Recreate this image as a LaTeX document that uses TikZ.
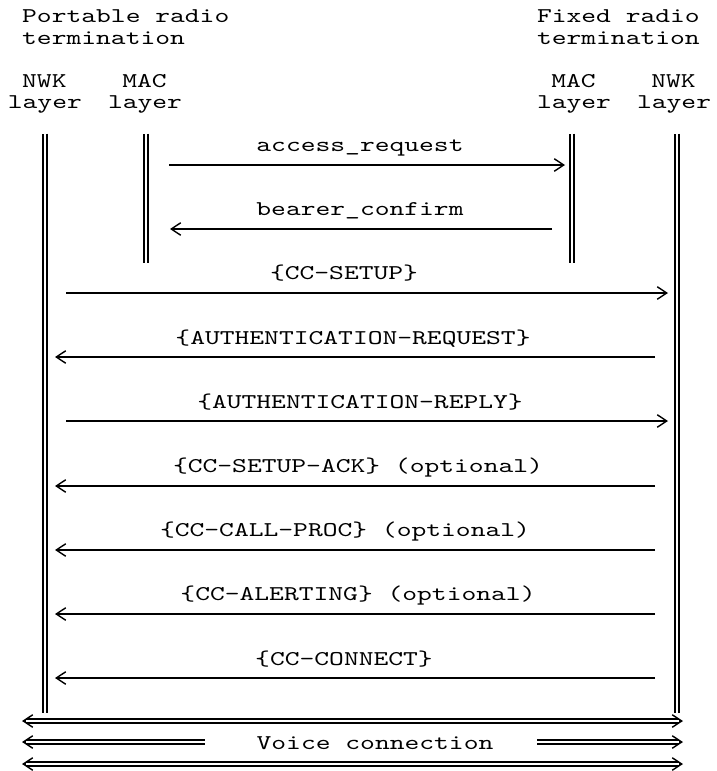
\documentclass[tikz,border=0pt]{standalone}
\usepackage{fontspec}
\newfontfamily\courfont{lmmono10-regular.otf}[FakeStretch=1.342]
\usetikzlibrary{arrows.meta}
\begin{document}
\begin{tikzpicture}[x=1pt,y=-1pt,
  txt/.style={font={\courfont\fontsize{21}{21.4}\selectfont}, inner sep=0pt, text=black},
  hdr/.style={txt, anchor=base west},
  msgtxt/.style={txt, anchor=base},
  life/.style={draw=black, double=white, double distance=2.4pt, line width=1.4pt},
  tip/.tip={Straight Barb[length=9.5pt,width=12.5pt,line width=1.4pt]},
  msg/.style={draw=black, line width=1.8pt, -tip},
  chev/.style={draw=black, line width=1.4pt},
  dbl/.style={draw=black, double=white, double distance=2.3pt, line width=1.8pt}]
\useasboundingbox[fill=white] (0,0) rectangle (716,771);

% ---- headers
\node[hdr] (prt1) at (22,23) {Portable radio};
\node[hdr] (prt2) at (22,44.4) {termination};
\node[hdr] (frt1) at (536.8,23) {Fixed radio};
\node[hdr] (frt2) at (536.8,44.4) {termination};
\node[hdr] (nwkLa) at (22,87.2) {NWK};
\node[hdr] (nwkLb) at (7.7,108.6) {layer};
\node[hdr] (macLa) at (122.1,87.2) {MAC};
\node[hdr] (macLb) at (107.8,108.6) {layer};
\node[hdr] (macRa) at (551.1,87.2) {MAC};
\node[hdr] (macRb) at (536.8,108.6) {layer};
\node[hdr] (nwkRa) at (651.2,87.2) {NWK};
\node[hdr] (nwkRb) at (636.9,108.6) {layer};

% ---- lifelines
\coordinate (nwkLt) at (45,133.5);  \coordinate (nwkLe) at (45,713);
\coordinate (macLt) at (146,133.5); \coordinate (macLe) at (146,263);
\coordinate (macRt) at (572,133.5); \coordinate (macRe) at (572,263);
\coordinate (nwkRt) at (677,133.5); \coordinate (nwkRe) at (677,713);
\draw[life] (nwkLt) -- (nwkLe);
\draw[life] (macLt) -- (macLe);
\draw[life] (macRt) -- (macRe);
\draw[life] (nwkRt) -- (nwkRe);

% ---- messages
\node[msgtxt] (t1) at (360,151.4) {access\_request};
\coordinate (s1) at (169,165); \coordinate (e1) at (565,165);
\draw[msg] (s1) -- (e1);

\node[msgtxt] (t2) at (360,215.6) {bearer\_confirm};
\coordinate (s2) at (552,229); \coordinate (e2) at (170,229);
\draw[msg] (s2) -- (e2);

\node[msgtxt] (t3) at (344,279.8) {\{CC-SETUP\}};
\coordinate (s3) at (66,293); \coordinate (e3) at (668,293);
\draw[msg] (s3) -- (e3);

\node[msgtxt] (t4) at (353,344) {\{AUTHENTICATION-REQUEST\}};
\coordinate (s4) at (655,357); \coordinate (e4) at (55,357);
\draw[msg] (s4) -- (e4);

\node[msgtxt] (t5) at (360,408.2) {\{AUTHENTICATION-REPLY\}};
\coordinate (s5) at (66,421); \coordinate (e5) at (668,421);
\draw[msg] (s5) -- (e5);

\node[msgtxt] (t6) at (358,472.4) {\{CC-SETUP-ACK\} (optional)};
\coordinate (s6) at (655,486); \coordinate (e6) at (55,486);
\draw[msg] (s6) -- (e6);

\node[msgtxt] (t7) at (345,536.6) {\{CC-CALL-PROC\} (optional)};
\coordinate (s7) at (655,550); \coordinate (e7) at (55,550);
\draw[msg] (s7) -- (e7);

\node[msgtxt] (t8) at (358,600.8) {\{CC-ALERTING\} (optional)};
\coordinate (s8) at (655,614); \coordinate (e8) at (55,614);
\draw[msg] (s8) -- (e8);

\node[msgtxt] (t9) at (344,665) {\{CC-CONNECT\}};
\coordinate (s9) at (655,678); \coordinate (e9) at (55,678);
\draw[msg] (s9) -- (e9);

% ---- voice connection
\coordinate (va1) at (22,721);  \coordinate (vb1) at (683,721);
\coordinate (va2) at (22,742);  \coordinate (vc2) at (205,742);
\coordinate (vd2) at (537,742); \coordinate (vb2) at (683,742);
\coordinate (va3) at (22,764);  \coordinate (vb3) at (683,764);
\draw[chev, tip-tip] (va1) -- (vb1);
\draw[dbl, shorten <=4pt, shorten >=4pt] (va1) -- (vb1);
\draw[chev, tip-] (va2) -- (vc2);
\draw[dbl, shorten <=4pt] (va2) -- (vc2);
\draw[chev, -tip] (vd2) -- (vb2);
\draw[dbl, shorten >=4pt] (vd2) -- (vb2);
\draw[chev, tip-tip] (va3) -- (vb3);
\draw[dbl, shorten <=4pt, shorten >=4pt] (va3) -- (vb3);
\node[msgtxt] (vt) at (375,749) {Voice connection};
\end{tikzpicture}
\end{document}
